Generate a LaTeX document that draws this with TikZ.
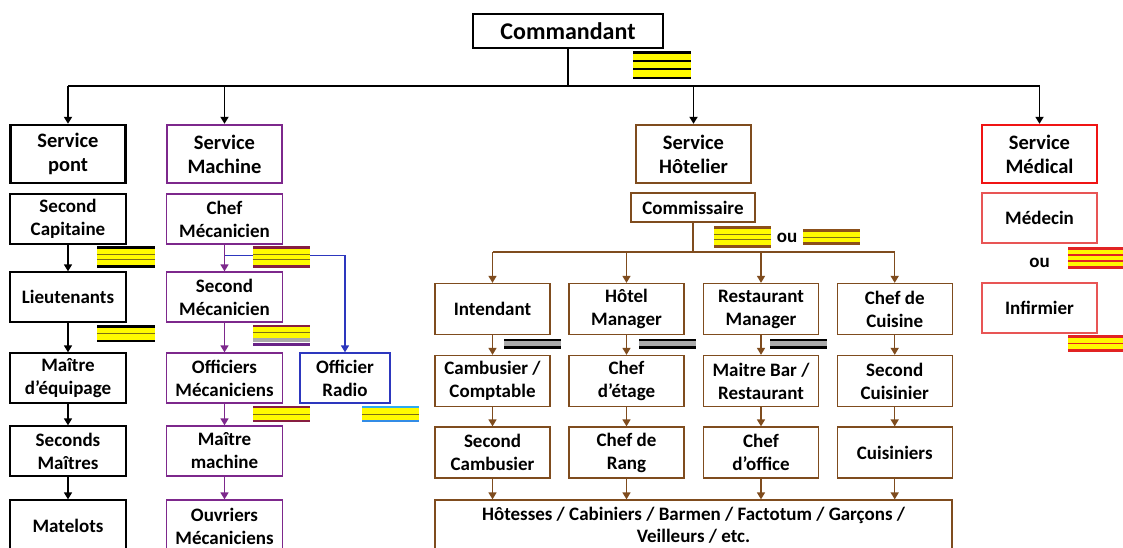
\documentclass[tikz,border=0pt]{standalone}
\usepackage{fontspec}
\setmainfont{Carlito}
\usetikzlibrary{arrows.meta,calc}
\definecolor{purp}{RGB}{125,40,140}
\definecolor{brn}{RGB}{127,76,30}
\definecolor{blu}{RGB}{45,55,190}
\definecolor{redb}{RGB}{240,20,20}
\definecolor{redl}{RGB}{232,85,85}
\definecolor{yel}{RGB}{255,250,0}
\definecolor{olv}{RGB}{125,110,20}
\definecolor{mar}{RGB}{135,30,65}
\definecolor{pur2}{RGB}{105,35,135}
\definecolor{gry}{RGB}{170,170,170}
\definecolor{lblu}{RGB}{45,170,240}
\definecolor{lblu2}{RGB}{50,140,230}
\definecolor{fbrn}{RGB}{140,80,25}
\definecolor{fred}{RGB}{225,35,35}
\newcommand\flag[4]{%
  \xdef\flagy{#2}%
  \foreach \fc/\fh in {#4}{%
    \fill[\fc] (#1,\flagy) rectangle ++(#3,\fh);
    \pgfmathsetmacro\flagtmp{\flagy+\fh}%
    \xdef\flagy{\flagtmp}%
  }%
}
\tikzset{
  base/.style={draw, align=center, inner sep=0pt, fill=white, text=black,
    font=\bfseries\fontsize{19}{23}\selectfont},
  hdr/.style={base, line width=2.4pt, minimum width=115pt, minimum height=58pt,
    font=\bfseries\fontsize{20.5}{24}\selectfont},
  cell/.style={base, line width=1.3pt, minimum width=116pt, minimum height=50pt},
  hcell/.style={base, draw=brn, line width=1.3pt, minimum width=115pt, minimum height=51pt},
  arr/.style={-{Triangle[width=8pt,length=7pt]}},
  blk/.style={line width=1.8pt, draw=black},
  pl/.style={line width=1.5pt, draw=purp, fill=purp},
  bl/.style={line width=1.5pt, draw=blu, fill=blu},
  br/.style={line width=1.5pt, draw=brn, fill=brn},
  lbl/.style={inner sep=0pt, font=\bfseries\fontsize{19}{23}\selectfont}
}
\begin{document}
\begin{tikzpicture}[x=1pt,y=-1pt]
\useasboundingbox (0,0) rectangle (1123,547);
\clip (0,0) rectangle (1123,547);
\fill[white] (0,0) rectangle (1123,547);

% top
\node[base, line width=2.4pt, minimum width=190pt, minimum height=34pt,
  font=\bfseries\fontsize{24}{28}\selectfont] (cmd) at (568,31) {Commandant};
\node[hdr] (hp) at (68,154) {Service\\pont};
\node[hdr, draw=purp] (hm) at (224.5,154) {Service\\Machine};
\node[hdr, draw=brn] (hh) at (693.5,154) {Service\\Hôtelier};
\node[hdr, draw=redb] (hmed) at (1039.5,154) {Service\\Médical};

% pont
\node[cell] (p1) at (68,219) {Second\\Capitaine};
\node[cell] (p2) at (68,297) {Lieutenants};
\node[cell] (p3) at (68,378) {Maître\\d’équipage};
\node[cell] (p4) at (68,451) {Seconds\\Maîtres};
\node[cell, minimum height=52pt] (p5) at (68,526) {Matelots};

% machine
\node[cell, draw=purp] (m1) at (224.5,219) {Chef\\Mécanicien};
\node[cell, draw=purp] (m2) at (224.5,297) {Second\\Mécanicien};
\node[cell, draw=purp] (m3) at (224.5,378) {Officiers\\Mécaniciens};
\node[cell, draw=purp] (m4) at (224.5,451) {Maître\\machine};
\node[cell, draw=purp, minimum height=52pt] (m5) at (224.5,526) {Ouvriers\\Mécaniciens};
\node[cell, draw=blu, minimum width=90pt] (radio) at (345,378) {Officier\\Radio};

% hotelier
\node[base, draw=brn, line width=1.3pt, minimum width=124pt, minimum height=29pt] (com) at (693,207.5) {Commissaire};
\node[hcell] (i1) at (492.5,309) {Intendant};
\node[hcell] (h1) at (626.5,309) {Hôtel\\Manager};
\node[hcell] (r1) at (761,309) {Restaurant\\Manager};
\node[hcell] (c1) at (894.7,309) {Chef de\\Cuisine};
\node[hcell] (i2) at (492.5,381) {Cambusier /\\Comptable};
\node[hcell] (h2) at (626.5,381) {Chef\\d’étage};
\node[hcell] (r2) at (761,381) {Maitre Bar /\\Restaurant};
\node[hcell] (c2) at (894.7,381) {Second\\Cuisinier};
\node[hcell] (i3) at (492.5,452.5) {Second\\Cambusier};
\node[hcell] (h3) at (626.5,452.5) {Chef de\\Rang};
\node[hcell] (r3) at (761,452.5) {Chef\\d’office};
\node[hcell] (c3) at (894.7,452.5) {Cuisiniers};
\node[hcell, minimum width=517pt, minimum height=50pt,
  font=\bfseries\fontsize{19}{22}\selectfont] (hot) at (693.5,525)
  {Hôtesses / Cabiniers / Barmen / Factotum / Garçons /\\Veilleurs / etc.};

% medical
\node[cell, draw=redl, minimum width=115pt] (med) at (1039.5,218) {Médecin};
\node[cell, draw=redl, minimum width=115pt] (inf) at (1039.5,308) {Infirmier};
\node[lbl] (ou2) at (1039.5,263) {ou};
\node[lbl] (ou1) at (787,238) {ou};

% connectors top
\coordinate (bar) at (0,86);
\draw[blk] (cmd.south) -- (cmd.south |- bar);
\draw[blk] (hp.north |- bar) -- (hmed.north |- bar);
\foreach \n in {hp,hm,hh,hmed}{
  \draw[blk, arr, fill=black] (\n.north |- bar) -- (\n.north);
}
% pont
\foreach \a/\b in {p1/p2,p2/p3,p3/p4,p4/p5}{
  \draw[blk, line width=1.5pt, arr, fill=black] (\a.south) -- (\b.north);
}
% machine
\coordinate (rb) at (0,255.5);
\draw[bl, fill=none] (m1.south |- rb) -| ($(radio.north)+(0,-7)$);
\draw[bl, arr] ($(radio.north)+(0,-8)$) -- (radio.north);
\foreach \a/\b in {m1/m2,m2/m3,m3/m4,m4/m5}{
  \draw[pl, arr] (\a.south) -- (\b.north);
}
% hotelier
\coordinate (hb) at (0,252);
\draw[br] (com.south) -- (com.south |- hb);
\draw[br] (i1.north |- hb) -- (c1.north |- hb);
\foreach \n in {i,h,r,c}{
  \draw[br, arr] (\n1.north |- hb) -- (\n1.north);
  \draw[br, arr] (\n1.south) -- (\n2.north);
  \draw[br, arr] (\n2.south) -- (\n3.north);
  \draw[br, arr] (\n3.south) -- (\n3.south |- hot.north);
}

% rank stripes
\flag{633}{51}{58}{black/2.5, yel/6.5, black/1.5, yel/6, black/2.5, yel/6.5, black/2.5}
\flag{97}{246}{58}{black/2.5, yel/5, olv/1.2, yel/4.5, olv/1.2, yel/5, black/2.5}
\flag{97}{325}{58}{black/2.5, yel/5.5, olv/1.2, yel/5.5, black/2.5}
\flag{253}{246}{57}{mar/2.5, yel/5, olv/1.2, yel/4.5, olv/1.2, yel/5, mar/2.5}
\flag{253}{324.5}{57}{mar/2, yel/5.5, olv/1.2, yel/5, gry/4, white/1, pur2/2.5}
\flag{253}{406}{57}{mar/2, yel/5.5, olv/1.2, yel/5.5, mar/2}
\flag{362}{406}{57}{lblu/2, yel/5.5, olv/1.2, yel/5.5, lblu2/2}
\flag{714}{226}{57}{fbrn/2.5, yel/5, olv/1.2, yel/4.5, olv/1.2, yel/5, fbrn/2.5}
\flag{803}{229}{57}{fbrn/2.5, yel/5, olv/1.2, yel/4.5, fbrn/2.5}
\flag{504}{339}{57}{black/2.2, gry/4.3, black/3.5}
\flag{639}{339}{57}{black/2.2, gry/4.3, black/3.5}
\flag{770}{339}{57}{black/2.2, gry/4.3, black/3.5}
\flag{1068}{247}{60}{fred/2.5, yel/4.5, fred/1.5, yel/4.5, fred/1.5, yel/4.5, fred/2.5}
\flag{1068}{335}{60}{fred/2.5, yel/5, fred/1.5, yel/5, fred/2.5}
\end{tikzpicture}
\end{document}
